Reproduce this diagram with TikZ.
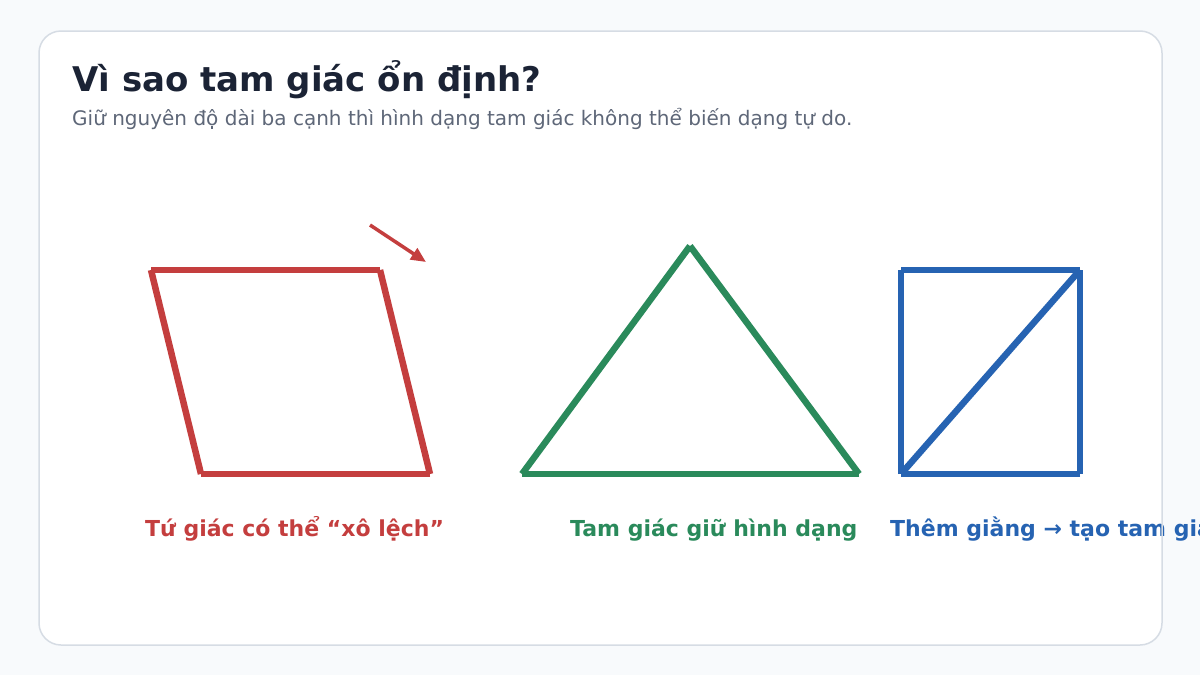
\documentclass[tikz,border=0pt]{standalone}
\usepackage{fontspec}
\setmainfont{DejaVu Sans}
\usetikzlibrary{arrows.meta}
\definecolor{bgc}{HTML}{F8FAFC}
\definecolor{cardborder}{HTML}{D6DCE4}
\definecolor{titlec}{HTML}{1B2335}
\definecolor{subc}{HTML}{5E6778}
\definecolor{redc}{HTML}{C43E3E}
\definecolor{greenc}{HTML}{2A8A5B}
\definecolor{bluec}{HTML}{2663B2}
\tikzset{
  edge/.style={line width=6.5pt, line cap=butt},
  lbl/.style={anchor=base west, inner sep=0pt, font=\fontsize{22}{26}\selectfont\bfseries},
}
\begin{document}
\begin{tikzpicture}[x=1pt,y=-1pt]
\useasboundingbox (0,0) rectangle (1200,675);
\fill[bgc] (0,0) rectangle (1200,675);
\fill[white, rounded corners=22pt] (39,31) rectangle (1162,645);
\node[anchor=base west, inner sep=0pt, text=titlec, font=\fontsize{34}{40}\selectfont\bfseries] (title) at (72,91) {Vì sao tam giác ổn định?};
\node[anchor=base west, inner sep=0pt, text=subc, font=\fontsize{20}{24}\selectfont] (sub) at (72,125) {Giữ nguyên độ dài ba cạnh thì hình dạng tam giác không thể biến dạng tự do.};
% quadrilateral
\coordinate (q1) at (151,270);
\coordinate (q2) at (380,270);
\coordinate (q3) at (430,474);
\coordinate (q4) at (201,474);
\draw[edge, redc] (q1) -- (q2);
\draw[edge, redc] (q2) -- (q3);
\draw[edge, redc] (q3) -- (q4);
\draw[edge, redc] (q4) -- (q1);
\coordinate (a1) at (370,225);
\coordinate (a2) at (426,262);
\draw[redc, line width=3.5pt, -{Triangle[length=15pt,width=13pt]}] (a1) -- (a2);
% triangle
\coordinate (t1) at (690,246);
\coordinate (t2) at (859,474);
\coordinate (t3) at (522,474);
\draw[edge, greenc] (t1) -- (t2);
\draw[edge, greenc] (t2) -- (t3);
\draw[edge, greenc] (t3) -- (t1);
% braced square
\coordinate (s1) at (901,270);
\coordinate (s2) at (1080,270);
\coordinate (s3) at (1080,474);
\coordinate (s4) at (901,474);
\draw[edge, bluec] (s1) -- (s2);
\draw[edge, bluec] (s2) -- (s3);
\draw[edge, bluec] (s3) -- (s4);
\draw[edge, bluec] (s4) -- (s1);
\draw[edge, bluec] (s4) -- (s2);
% labels
\node[lbl, text=redc] (lq) at (145,536) {Tứ giác có thể “xô lệch”};
\node[lbl, text=greenc] (lt) at (570,536) {Tam giác giữ hình dạng};
\node[lbl, text=bluec] (ls) at (890,536) {Thêm giằng → tạo tam giác};
\draw[cardborder, line width=1.5pt, rounded corners=22pt] (39,31) rectangle (1162,645);
\end{tikzpicture}
\end{document}
